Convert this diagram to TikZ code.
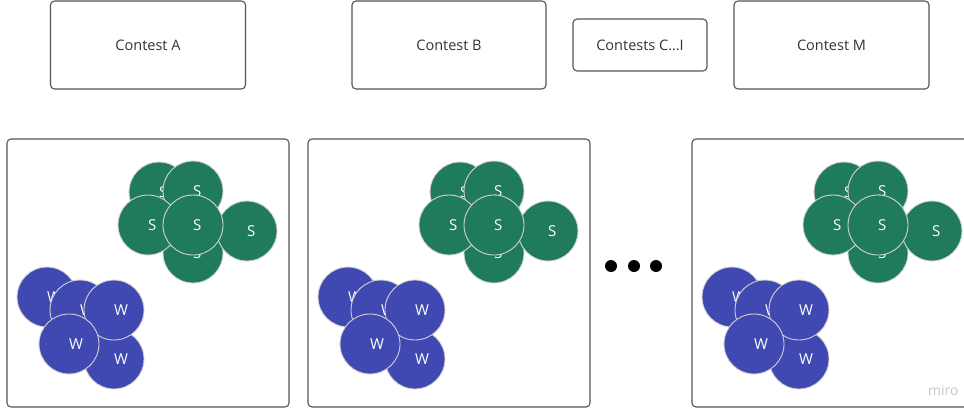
\documentclass[tikz,border=0pt]{standalone}
\usepackage{fontspec}
\setmainfont{Open Sans}
\definecolor{sgreen}{RGB}{31,122,94}
\definecolor{wblue}{RGB}{64,72,178}
\definecolor{edgegray}{RGB}{85,85,85}
\begin{document}
\begin{tikzpicture}[x=1pt,y=-1pt,
  box/.style={draw=edgegray, line width=1.1pt, rounded corners=4pt, fill=white, text=black!80,
    inner sep=0pt, font=\fontsize{14.5}{17}\selectfont},
  panelbox/.style={draw=edgegray, line width=1.1pt, rounded corners=4pt},
  sc/.style={circle, fill=sgreen, draw=gray!35, line width=0.9pt, minimum size=60pt, inner sep=0pt,
    text=white, font=\fontsize{15}{18}\selectfont},
  wc/.style={sc, fill=wblue},
  bigdot/.style={circle, fill=black, minimum size=12pt, inner sep=0pt},
  wm/.style={text=gray!45, font=\fontsize{14}{16}\selectfont}]
\useasboundingbox (0,0) rectangle (964,410);
\clip (0,0) rectangle (964,410);
% top boxes
\node[box, minimum width=195pt, minimum height=88pt] (ca) at (148,45) {Contest A};
\node[box, minimum width=194pt, minimum height=88pt] (cb) at (449,45) {Contest B};
\node[box, minimum width=134pt, minimum height=52pt] (cc) at (640,45) {Contests C…I};
\node[box, minimum width=195pt, minimum height=88pt] (cm) at (831.5,45) {Contest M};
% panels
\foreach \p/\dx/\wd in {1/0/282, 2/301/282, 3/685/300}{
  \begin{scope}[xshift=\dx pt]
    \draw[panelbox] (7,139) rectangle ++(\wd,268);
    \node[sc] (s1-\p) at (159,192) {S};
    \node[sc] (s2-\p) at (193,191) {S};
    \node[sc] (s3-\p) at (193,253) {S};
    \node[sc] (s4-\p) at (148,225) {S};
    \node[sc] (s5-\p) at (247,231) {S};
    \node[sc] (s6-\p) at (193,225) {S};
    \node[wc] (w1-\p) at (47,297) {W};
    \node[wc] (w2-\p) at (80,310) {W};
    \node[wc] (w3-\p) at (114,359) {W};
    \node[wc] (w4-\p) at (114,310) {W};
    \node[wc] (w5-\p) at (69,344) {W};
  \end{scope}
}
% dots
\node[bigdot] (d1) at (611,266) {};
\node[bigdot] (d2) at (634,266) {};
\node[bigdot] (d3) at (656,266) {};
% watermark
\node[wm, anchor=east] (miro) at (962,390) {miro};
\end{tikzpicture}
\end{document}
